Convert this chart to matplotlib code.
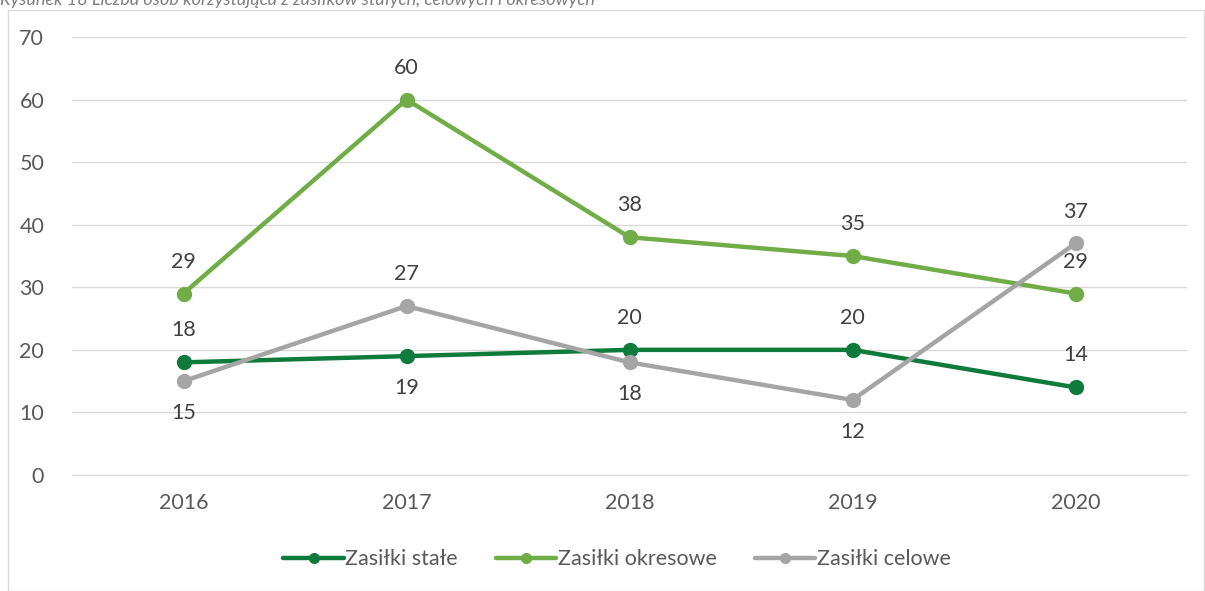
import matplotlib
matplotlib.use("Agg")
import matplotlib.pyplot as plt
from matplotlib.patches import Rectangle
from matplotlib.lines import Line2D

plt.rcParams["font.family"] = ["Lato", "DejaVu Sans"]

years = ["2016", "2017", "2018", "2019", "2020"]
stale = [18, 19, 20, 20, 14]
okresowe = [29, 60, 38, 35, 29]
celowe = [15, 27, 18, 12, 37]

# label placement per point: +1 above, -1 below
stale_pos = [1, -1, 1, 1, 1]
okresowe_pos = [1, 1, 1, 1, 1]
celowe_pos = [-1, 1, -1, -1, 1]

series = [
    ("Zasiłki stałe", stale, stale_pos, "#0E7A3B"),
    ("Zasiłki okresowe", okresowe, okresowe_pos, "#70AD47"),
    ("Zasiłki celowe", celowe, celowe_pos, "#A5A5A5"),
]
FS = 15.5

fig = plt.figure(figsize=(12.05, 5.91), dpi=100)
fig.patches.append(Rectangle((8 / 1205, 0), 1 - 9 / 1205, 1 - 10 / 591,
                             transform=fig.transFigure, fill=False,
                             edgecolor="#D9D9D9", linewidth=1))
fig.text(0.0, 1.0, "Rysunek 18 Liczba osób korzystająca z zasiłków stałych, celowych i okresowych",
         ha="left", va="center", fontsize=13, style="italic", color="#7F7F7F")

ax = fig.add_axes([72 / 1205, 1 - 475 / 591, 1115 / 1205, 438 / 591])
x = range(len(years))
handles = []
for name, vals, pos, col in series:
    ax.plot(x, vals, color=col, lw=3.2, marker="o", ms=10,
            solid_capstyle="round", zorder=3)
    handles.append(Line2D([], [], color=col, lw=3.2, marker="o", ms=7,
                          solid_capstyle="round", label=name))
    for xi, v, p in zip(x, vals, pos):
        ax.annotate(str(v), (xi, v), xytext=(0, 23 * p), textcoords="offset points",
                    ha="center", va="center", fontsize=FS, color="#404040")

ax.set_xlim(-0.5, 4.5)
ax.set_ylim(0, 70)
ax.set_yticks(range(0, 71, 10))
ax.set_xticks(list(x))
ax.set_xticklabels(years)
ax.grid(axis="y", color="#D9D9D9", lw=1)
ax.set_axisbelow(True)
for s in ["top", "right", "left"]:
    ax.spines[s].set_visible(False)
ax.spines["bottom"].set_color("#D9D9D9")
ax.tick_params(length=0, labelsize=FS, labelcolor="#595959")
ax.tick_params(axis="x", pad=13)
ax.tick_params(axis="y", pad=20)

fig.legend(handles=handles, loc="center", bbox_to_anchor=(0.512, 0.054), ncol=3,
           frameon=False, fontsize=FS, labelcolor="#595959", handlelength=2.8,
           handletextpad=0.05, columnspacing=1.8)

fig.savefig("out.png", dpi=100)
